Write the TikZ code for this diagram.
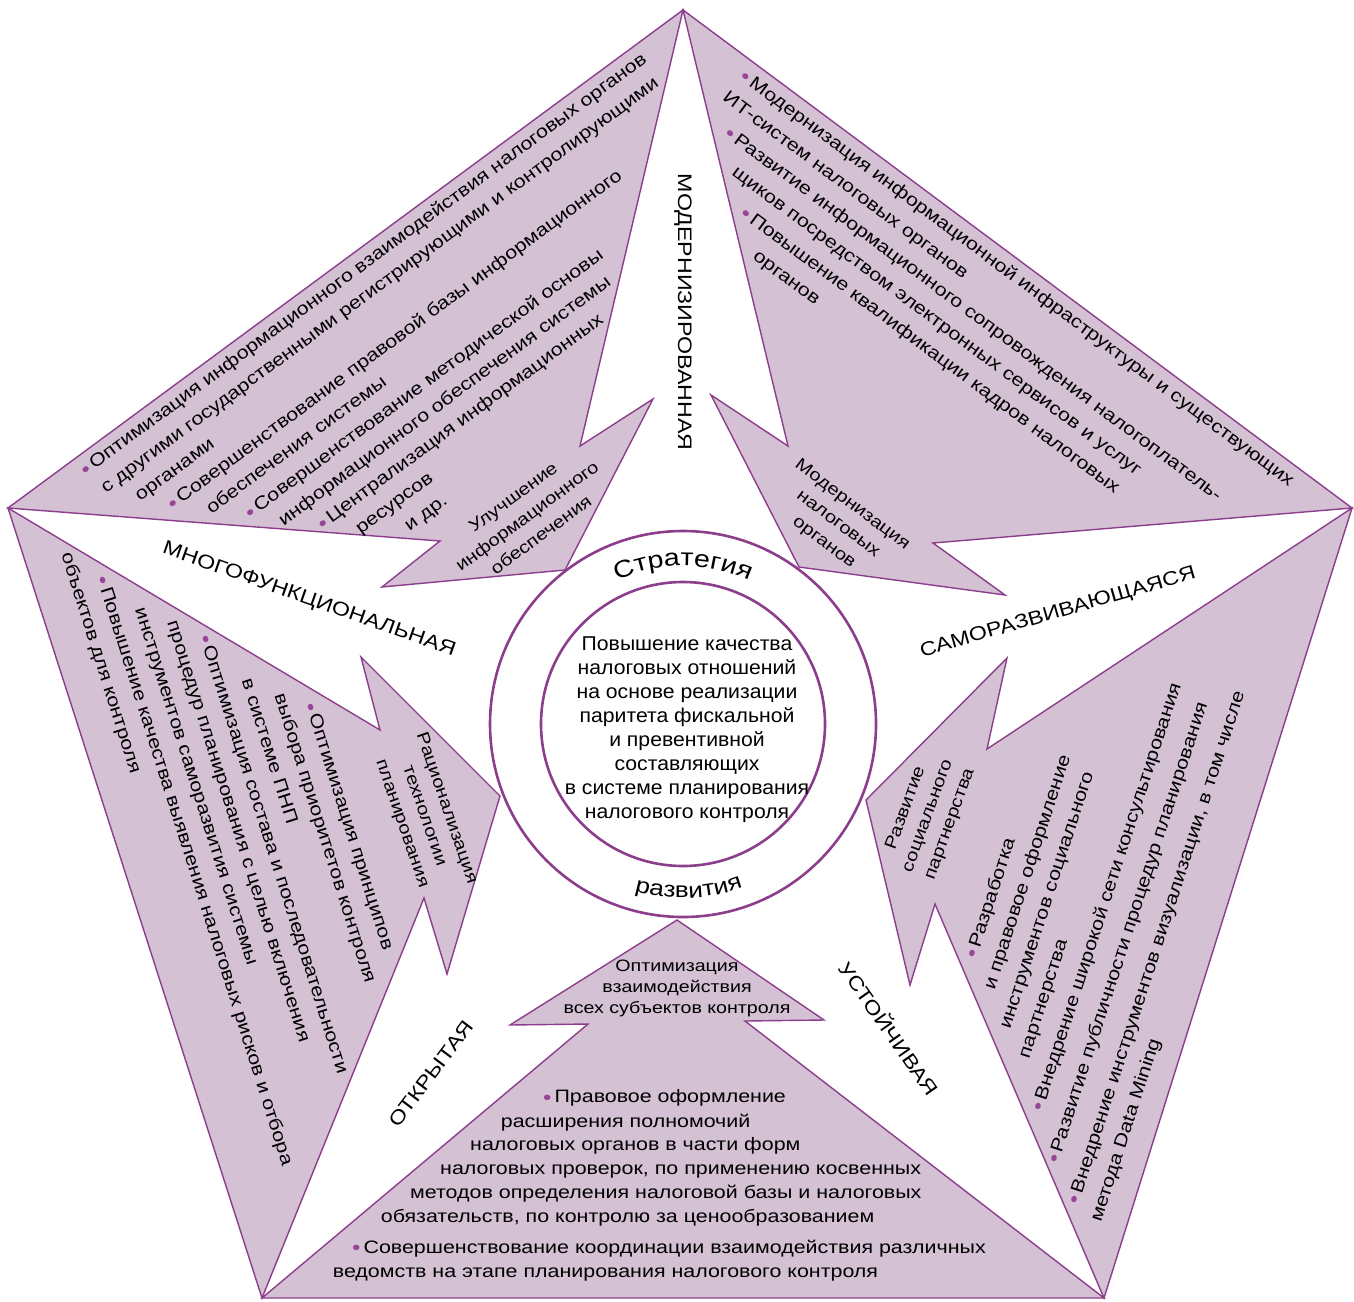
\documentclass[tikz,border=0pt]{standalone}
\usepackage{fontspec}
\setmainfont{Liberation Sans}
\newfontfamily\txtfont[FakeStretch=1.19]{Liberation Sans}
\newfontfamily\midfont[FakeStretch=1.06]{Liberation Sans}
\usetikzlibrary{calc,decorations.text}

\definecolor{shade}{RGB}{212,193,211}
\definecolor{edge}{RGB}{140,62,140}
\definecolor{dotc}{RGB}{150,70,150}

% small purple bullet used in the lists
\newcommand\bul{{\color{dotc}\raisebox{-1.5pt}{\fontsize{20}{20}\selectfont\char"2022}}\hspace{3pt}}

\tikzset{
  txt/.style={inner sep=0pt, anchor=base west, font={\txtfont\fontsize{18}{22}\selectfont}},
  lbl/.style={inner sep=0pt, align=center, font={\txtfont\fontsize{17}{23.5}\selectfont}},
  big/.style={inner sep=0pt, font={\txtfont\fontsize{19.5}{22}\selectfont}},
  petal/.style={fill=shade, draw=edge, line width=1.4pt, line join=miter},
  ring/.style={draw=edge, line width=2.6pt}
}

\begin{document}
\begin{tikzpicture}[x=1pt, y=-1pt]
\useasboundingbox (0,0) rectangle (1354,1301);
\fill[white] (0,0) rectangle (1354,1301);

% pentagon corners and circle centre
\coordinate (T)  at (683,10);
\coordinate (L)  at (8,508);
\coordinate (R)  at (1352,508);
\coordinate (BL) at (262,1298);
\coordinate (BR) at (1104,1298);
\coordinate (C)  at (683,724);

% five arrow-shaped sectors pointing to the centre
\draw[petal] (T) -- (580,446) -- (653,399) -- (565,570) -- (382,587) -- (440,541) -- (L) -- cycle;
\draw[petal] (T) -- (788,446) -- (711,395) -- (799,567) -- (1005,595) -- (933,543) -- (R) -- cycle;
\draw[petal] (L) -- (380,730) -- (361,657) -- (500,796) -- (447,974) -- (424,898) -- (BL) -- cycle;
\draw[petal] (R) -- (987,749) -- (1007,658) -- (866,800) -- (910,985) -- (935,904) -- (BR) -- cycle;
\draw[petal] (BL) -- (588,1024) -- (510,1025) -- (677,920) -- (824,1020) -- (745,1021) -- (BR) -- cycle;

% central rings
\draw[ring] (C) circle[radius=193];
\draw[ring] (C) circle[radius=142];

% ring captions
\path[decorate, decoration={text along path, text align=center,
  text={|\txtfont\fontsize{24}{24}\selectfont|Стратегия}}]
  ($(C)+(-120:158)$) arc[start angle=-120, end angle=-60, radius=158];
\path[decorate, decoration={text along path, text align=center,
  text={|\txtfont\fontsize{22}{22}\selectfont|развития}}]
  ($(C)+(118:174)$) arc[start angle=118, end angle=58, radius=174];

% centre statement
\node[inner sep=0pt, anchor=north, align=center, font={\midfont\fontsize{20}{24}\selectfont}] (goal) at (687,636.5)
  {Повышение качества\\налоговых отношений\\на основе реализации\\паритета фискальной\\и превентивной\\составляющих\\в системе планирования\\налогового контроля};

% sector titles
\node[big, rotate=-90]   (tModern) at (683,312)  {МОДЕРНИЗИРОВАННАЯ};
\node[big, rotate=-19.5] (tMulti)  at (309,600)  {МНОГОФУНКЦИОНАЛЬНАЯ};
\node[big, rotate=16]    (tSelf)   at (1058,613) {САМОРАЗВИВАЮЩАЯСЯ};
\node[big, rotate=-55]   (tStable) at (890,1028) {УСТОЙЧИВАЯ};
\node[big, rotate=53]    (tOpen)   at (431,1074) {ОТКРЫТАЯ};

% arrow-tip captions
\node[lbl, rotate=36.4] (aInfo)  at (527,516) {Улучшение\\информационного\\обеспечения};
\node[lbl, rotate=-37]  (aModrn) at (838,524) {Модернизация\\налоговых\\органов};
\node[lbl, rotate=-71]  (aRatio) at (424,816) {Рационализация\\технологии\\планирования};
\node[lbl, rotate=70]   (aSocial) at (928,816) {Развитие\\социального\\партнерства};
\node[inner sep=0pt, align=center, font={\txtfont\fontsize{16.5}{21}\selectfont}] (aCoord) at (677,988)
  {Оптимизация\\взаимодействия\\всех субъектов контроля};

% upper-left list
\begin{scope}[rotate=36.4, transform shape]
  \node[txt] (ul1)  at (-214,434)   {\bul Оптимизация информационного взаимодействия налоговых органов};
  \node[txt] (ul2)  at (-208,460.5) {с другими государственными регистрирующими и контролирующими};
  \node[txt] (ul3)  at (-185,487)   {органами};
  \node[txt] (ul4)  at (-164,513)   {\bul Совершенствование правовой базы информационного};
  \node[txt] (ul5)  at (-135,539.5) {обеспечения системы};
  \node[txt] (ul6)  at (-107,566)   {\bul Совершенствование методической основы};
  \node[txt] (ul7)  at (-84,592)    {информационного обеспечения системы};
  \node[txt] (ul8)  at (-55,618)    {\bul Централизация информационных};
  \node[txt] (ul9)  at (-27,644.5)  {ресурсов};
  \node[txt] (ul10) at (14,671)     {и др.};
\end{scope}

% upper-right list
\begin{scope}[rotate=-36.6, transform shape]
  \node[txt] (ur1) at (640,-377.6) {\bul Модернизация информационной инфраструктуры и существующих};
  \node[txt] (ur2) at (639,-350.2) {ИТ-систем налоговых органов};
  \node[txt] (ur3) at (661.5,-322.8) {\bul Развитие информационного сопровождения налогоплатель-};
  \node[txt] (ur4) at (691,-295.4) {щиков посредством электронных сервисов и услуг};
  \node[txt] (ur5) at (722,-268)   {\bul Повышение квалификации кадров налоговых};
  \node[txt] (ur6) at (758,-240.6) {органов};
\end{scope}

% left list
\begin{scope}[rotate=-72.5, transform shape]
  \node[txt] (ll1) at (764,-79.3)  {\bul Оптимизация принципов};
  \node[txt] (ll2) at (746,-52.5)  {выбора приоритетов контроля};
  \node[txt] (ll3) at (721.6,-25.7) {в системе ПНП};
  \node[txt] (ll4) at (667,1.1)    {\bul Оптимизация состава и последовательности};
  \node[txt] (ll5) at (644,27.9)   {процедур планирования с целью включения};
  \node[txt] (ll6) at (622,54.7)   {инструментов саморазвития системы};
  \node[txt] (ll7) at (580.5,81.5) {\bul Повышение качества выявления налоговых рисков и отбора};
  \node[txt] (ll8) at (547.5,108.3) {объектов для контроля};
\end{scope}

% right list
\begin{scope}[rotate=72, transform shape]
  \node[txt] (rl1) at (-611,1225)   {\bul Разработка};
  \node[txt] (rl2) at (-635,1252)   {и правовое оформление};
  \node[txt] (rl3) at (-667.6,1279) {инструментов социального};
  \node[txt] (rl4) at (-689.5,1306) {партнерства};
  \node[txt] (rl5) at (-736,1335)   {\bul Внедрение широкой сети консультирования};
  \node[txt] (rl6) at (-780,1366)   {\bul Развитие публичности процедур планирования};
  \node[txt] (rl7) at (-813,1398)   {\bul Внедрение инструментов визуализации, в том числе};
  \node[txt] (rl8) at (-823,1425)   {метода Data Mining};
\end{scope}

% bottom list
\node[txt] (bl1) at (543,1102.7)   {\bul Правовое оформление};
\node[txt] (bl2) at (500.7,1127.7) {расширения полномочий};
\node[txt] (bl3) at (470,1150.5)   {налоговых органов в части форм};
\node[txt] (bl4) at (440,1174.5)   {налоговых проверок, по применению косвенных};
\node[txt] (bl5) at (410,1198)     {методов определения налоговой базы и налоговых};
\node[txt] (bl6) at (380.7,1222)   {обязательств, по контролю за ценообразованием};
\node[txt] (bl7) at (352,1253.3)   {\bul Совершенствование координации взаимодействия различных};
\node[txt] (bl8) at (332.7,1277.7) {ведомств на этапе планирования налогового контроля};
\end{tikzpicture}
\end{document}
